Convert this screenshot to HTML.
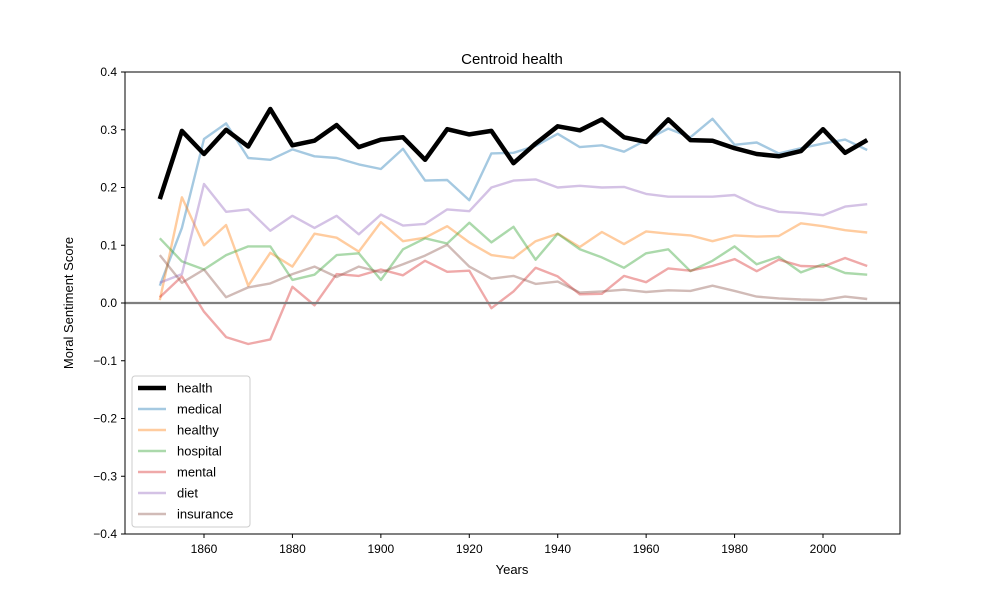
<!DOCTYPE html>
<html><head><meta charset="utf-8"><style>
body{margin:0;background:#fff;}
svg{font-family:"Liberation Sans","DejaVu Sans",sans-serif;}
</style></head><body>
<svg id="chart" width="1000" height="600" viewBox="0 0 1000 600">
<rect width="1000" height="600" fill="#fff"/>
<text x="512" y="64" font-size="15" text-anchor="middle">Centroid health</text>
<g id="plot"></g>
<rect x="125" y="72" width="775" height="462" fill="none" stroke="#000" stroke-width="1"/>
<text x="512" y="574" font-size="13" text-anchor="middle">Years</text>
<text transform="translate(73,303) rotate(-90)" font-size="13" text-anchor="middle">Moral Sentiment Score</text>
</svg>
<script>
const years=[1850,1855,1860,1865,1870,1875,1880,1885,1890,1895,1900,1905,1910,1915,1920,1925,1930,1935,1940,1945,1950,1955,1960,1965,1970,1975,1980,1985,1990,1995,2000,2005,2010];
const health=[0.18,0.298,0.258,0.30,0.271,0.336,0.273,0.281,0.308,0.27,0.283,0.287,0.248,0.301,0.292,0.298,0.242,0.276,0.306,0.299,0.318,0.287,0.279,0.318,0.282,0.281,0.268,0.258,0.254,0.263,0.301,0.26,0.282];
const medical=[0.03,0.13,0.284,0.311,0.251,0.248,0.266,0.254,0.251,0.24,0.232,0.267,0.212,0.213,0.178,0.259,0.26,0.272,0.293,0.27,0.273,0.262,0.282,0.302,0.287,0.319,0.274,0.278,0.259,0.268,0.276,0.283,0.265];
const healthy=[0.005,0.183,0.1,0.135,0.03,0.087,0.063,0.12,0.113,0.089,0.14,0.107,0.113,0.133,0.105,0.083,0.078,0.107,0.12,0.097,0.123,0.102,0.124,0.12,0.117,0.107,0.117,0.115,0.116,0.138,0.133,0.126,0.122];
const hospital=[0.112,0.072,0.058,0.083,0.098,0.098,0.04,0.049,0.083,0.086,0.04,0.093,0.112,0.103,0.139,0.105,0.132,0.075,0.12,0.093,0.079,0.061,0.086,0.093,0.055,0.073,0.098,0.067,0.08,0.053,0.067,0.052,0.049];
const mental=[0.01,0.046,-0.015,-0.059,-0.071,-0.063,0.028,-0.004,0.05,0.047,0.058,0.048,0.073,0.054,0.056,-0.009,0.02,0.061,0.046,0.015,0.016,0.047,0.036,0.06,0.056,0.064,0.076,0.055,0.075,0.064,0.063,0.078,0.064];
const diet=[0.035,0.05,0.206,0.158,0.162,0.125,0.151,0.13,0.151,0.119,0.153,0.134,0.137,0.162,0.159,0.2,0.212,0.214,0.2,0.203,0.2,0.201,0.189,0.184,0.184,0.184,0.187,0.169,0.158,0.156,0.152,0.167,0.171];
const insurance=[0.083,0.035,0.058,0.01,0.027,0.034,0.05,0.063,0.045,0.063,0.053,0.067,0.082,0.101,0.063,0.042,0.047,0.033,0.037,0.018,0.02,0.023,0.019,0.022,0.021,0.03,0.021,0.011,0.008,0.006,0.005,0.011,0.007];
const xTicks=[1860,1880,1900,1920,1940,1960,1980,2000];
const yTicks=[-0.4,-0.3,-0.2,-0.1,0.0,0.1,0.2,0.3,0.4];

const NS="http://www.w3.org/2000/svg";
const X=v=>204+(v-1860)*(823-204)/140;
const Y=v=>303-v*577.5;
const svg=document.getElementById('chart');
const g=document.getElementById('plot');
function mk(t,a,p){const e=document.createElementNS(NS,t);for(const k in a)e.setAttribute(k,a[k]);(p||g).appendChild(e);return e;}

xTicks.forEach(t=>{
  const l=mk('line',{x1:X(t),x2:X(t),y1:534,y2:538,stroke:'#000'},svg);
  
  
  const s=mk('text',{x:X(t),y:553,'font-size':12,'text-anchor':'middle'},svg);
  s.textContent=t;
  
  
});
yTicks.forEach(t=>{
  const l=mk('line',{x1:121,x2:125,y1:Y(t),y2:Y(t),stroke:'#000'},svg);
  
  
  const s=mk('text',{x:117,y:Y(t)+4,'font-size':12,'text-anchor':'end'},svg);
  s.textContent=(t<0?'\u2212':'')+Math.abs(t).toFixed(1);
  
  
});

const series=[
 ['health',health,'#000',4.5,1],
 ['medical',medical,'#1f77b4',2.4,0.4],
 ['healthy',healthy,'#ff7f0e',2.4,0.4],
 ['hospital',hospital,'#2ca02c',2.4,0.4],
 ['mental',mental,'#d62728',2.4,0.4],
 ['diet',diet,'#9467bd',2.4,0.4],
 ['insurance',insurance,'#8c564b',2.4,0.4]
];
function path(vals){return vals.map((v,i)=>(i?'L':'M')+X(years[i]).toFixed(1)+','+Y(v).toFixed(1)).join('');}
series.slice(1).forEach(s=>{
  const p=mk('path',{d:path(s[1]),fill:'none',stroke:s[2],'stroke-width':s[3],'stroke-opacity':s[4],'stroke-linejoin':'round'});
  
  
});
const z=mk('line',{x1:125,x2:900,y1:Y(0),y2:Y(0),stroke:'#7f7f7f','stroke-width':2.2});


const hp=mk('path',{d:path(health),fill:'none',stroke:'#000','stroke-width':4.5,'stroke-linejoin':'round'});



const lg=mk('g',{},svg);


mk('rect',{x:132,y:376,width:118,height:151,rx:3,fill:'#fff','fill-opacity':0.8,stroke:'#ccc'},lg);
series.forEach((s,i)=>{
  const y=388+i*21;
  const e=mk('g',{},lg);
  
  
  mk('line',{x1:138,x2:166,y1:y,y2:y,stroke:s[2],'stroke-width':s[3],'stroke-opacity':s[4]},e);
  const t=mk('text',{x:177,y:y+4.5,'font-size':13},e);
  t.textContent=s[0];
});
</script>
</body></html>
